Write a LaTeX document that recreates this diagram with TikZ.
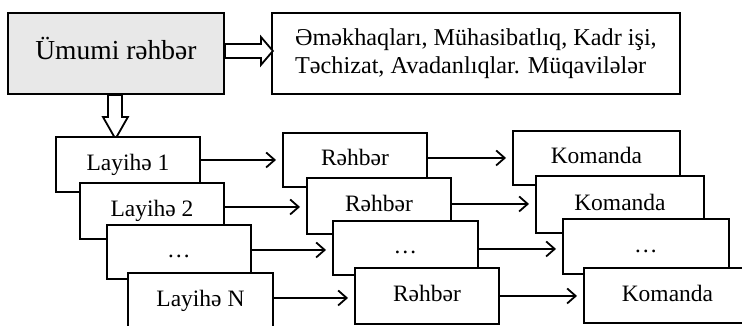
\documentclass[tikz,border=0pt]{standalone}
\usepackage{fontspec}
\setmainfont{Liberation Serif}
\usetikzlibrary{arrows.meta}
\begin{document}
\begin{tikzpicture}[x=1pt,y=-1pt,
  frame/.style={draw, line width=1.9pt, fill=white, inner sep=0pt, anchor=north west},
  box/.style={frame, font=\fontsize{23.5}{27}\selectfont, text height=16.5pt, text depth=5pt},
  proj/.style={box, minimum width=144pt, minimum height=55pt},
  lead/.style={box, minimum width=144pt, minimum height=55pt},
  team/.style={box, minimum width=167pt, minimum height=55pt},
  conn/.style={line width=1.8pt, -{Straight Barb[length=8.5pt,width=15pt,line width=1.8pt]}, shorten >=6pt},
  hollow/.style={draw, line width=1.8pt, fill=white, line join=miter}
]
\useasboundingbox (0,0) rectangle (742,325);
\clip (0,0) rectangle (742,325);

% top row
\node[box, fill=black!9, minimum width=216pt, minimum height=81pt,
      font=\fontsize{27.5}{31}\selectfont, text height=19pt, text depth=6pt]
      (top) at (7,12) {Ümumi rəhbər};
\node[frame, minimum width=408pt, minimum height=81pt, align=left,
      font=\fontsize{24.2}{28}\selectfont]
      (info) at (271,12) {Əməkhaqları, Mühasibatlıq, Kadr işi,\\Təchizat, Avadanlıqlar. Müqavilələr};

% hollow block arrows from the head box
\draw[hollow] (top.east) ++(0,-9.5) -- ++(36,0) -- ++(0,-7) -- ++(12,14)
  -- ++(-12,14) -- ++(0,-7) -- ++(-36,0) -- cycle;
\draw[hollow] (top.south) ++(-8,0) -- ++(0,22) -- ++(-5,0) -- ++(12.5,22)
  -- ++(12.5,-22) -- ++(-6,0) -- ++(0,-22) -- cycle;

% stacked projects
\node[proj] (L1) at (55,136) {Layihə 1};
\node[proj, minimum height=56pt] (L2) at (79,182) {Layihə 2};
\node[proj, minimum height=54pt] (L3) at (106,224) {…};
\node[proj, minimum width=145pt, minimum height=56pt] (LN) at (127,272) {Layihə N};

% stacked leaders
\node[lead, minimum height=54pt] (R1) at (282,132) {Rəhbər};
\node[lead, minimum height=56pt] (R2) at (306,177) {Rəhbər};
\node[lead, minimum width=145pt, minimum height=54pt] (R3) at (332,220) {…};
\node[lead, minimum height=56pt] (RN) at (354,267) {Rəhbər};

% stacked teams
\node[team, minimum height=54pt] (K1) at (512,130) {Komanda};
\node[team, minimum width=168pt, minimum height=57pt] (K2) at (535,175) {Komanda};
\node[team, minimum width=166pt, minimum height=55pt] (K3) at (562,218) {…};
\node[team, minimum height=55pt] (KN) at (583,267) {Komanda};

% project -> leader
\draw[conn] ([yshift=4.5pt]L1.east) -- ([yshift=4.5pt]L1.east -| R1.west);
\draw[conn] ([yshift=4pt]L2.east) -- ([yshift=4pt]L2.east -| R2.west);
\draw[conn] ([yshift=2pt]L3.east) -- ([yshift=2pt]L3.east -| R3.west);
\draw[conn] ([yshift=3pt]LN.east) -- ([yshift=3pt]LN.east -| RN.west);

% leader -> team
\draw[conn] ([yshift=2pt]R1.east) -- ([yshift=2pt]R1.east -| K1.west);
\draw[conn] ([yshift=2pt]R2.east) -- ([yshift=2pt]R2.east -| K2.west);
\draw[conn] ([yshift=-1pt]R3.east) -- ([yshift=-1pt]R3.east -| K3.west);
\draw[conn] (RN.east) -- (RN.east -| KN.west);
\end{tikzpicture}
\end{document}
